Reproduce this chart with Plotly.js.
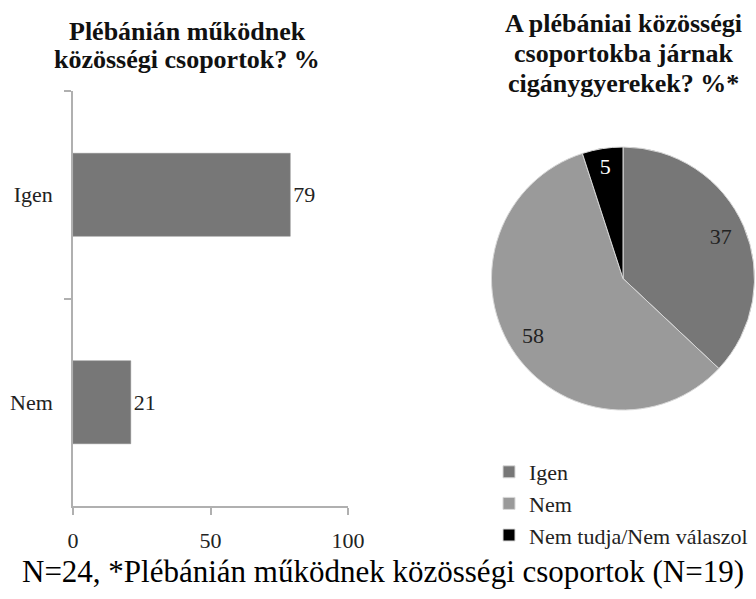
<!DOCTYPE html>
<html>
<head>
<meta charset="utf-8">
<script src="https://cdn.plot.ly/plotly-3.0.1.min.js"></script>
<style>
#chart text, #chart tspan { font-family: "Liberation Serif", "Times New Roman", Tinos, serif !important; }
</style>
</head>
<body style="margin:0">
<div id="chart" style="width:756px;height:599px"></div>
<script>
// Bar chart data
var barCategories = ["Igen", "Nem"];
var barValues = [79, 21];
var barTicks = [0, 50, 100];

// Pie chart data
var pieLabels = ["Igen", "Nem", "Nem tudja/Nem válaszol"];
var pieValues = [37, 58, 5];
var pieColors = ["#777777", "#9a9a9a", "#000000"];
var pieTextColors = ["#222222", "#222222", "#ffffff"];

// Titles
var leftTitleLines = ["Plébánián működnek", "közösségi csoportok? %"];
var rightTitleLines = ["A plébániai közösségi", "csoportokba járnak", "cigánygyerekek? %*"];
var footnote = "N=24, *Plébánián működnek közösségi csoportok (N=19)";

var serifFamily = "Liberation Serif";
var chartW = 756, chartH = 599;
var pieDomain = {x: [491 / chartW, 755 / chartW], y: [1 - 410 / chartH, 1 - 147 / chartH]};

var bar = {
  type: "bar",
  orientation: "h",
  y: barCategories,
  x: barValues,
  text: barValues.map(String),
  textposition: "outside",
  textfont: {family: serifFamily, size: 22, color: "#222"},
  cliponaxis: false,
  marker: {color: "#777777", line: {color: "#888", width: 0.5}},
  width: 0.4,
  showlegend: false
};

var pie = {
  type: "pie",
  labels: pieLabels,
  values: pieValues,
  sort: false,
  direction: "clockwise",
  rotation: 0,
  marker: {colors: pieColors, line: {color: "#d8d8d8", width: 1}},
  textinfo: "none",
  domain: pieDomain,
  showlegend: true
};

var pieText = {
  type: "pie",
  labels: pieLabels,
  values: pieValues,
  sort: false,
  direction: "clockwise",
  rotation: 0,
  hole: 0.62,
  marker: {colors: pieLabels.map(function () { return "rgba(0,0,0,0)"; }), line: {width: 0}},
  textinfo: "value",
  textposition: "inside",
  insidetextorientation: "horizontal",
  textfont: {family: serifFamily, size: 22, color: pieTextColors},
  domain: pieDomain,
  showlegend: false
};

var annotations = [];
leftTitleLines.forEach(function (t, i) {
  annotations.push({
    text: "<b>" + t + "</b>", xref: "paper", yref: "paper",
    x: 187 / chartW, y: 1 - (31 + i * 28) / chartH, xanchor: "center", yanchor: "middle",
    showarrow: false, font: {family: serifFamily, size: 26, color: "#111"}
  });
});
rightTitleLines.forEach(function (t, i) {
  annotations.push({
    text: "<b>" + t + "</b>", xref: "paper", yref: "paper",
    x: 623 / chartW, y: 1 - (24 + i * 29.5) / chartH, xanchor: "center", yanchor: "middle",
    showarrow: false, font: {family: serifFamily, size: 26, color: "#111"}
  });
});
annotations.push({
  text: footnote, xref: "paper", yref: "paper",
  x: 20 / chartW, y: 1 - 571 / chartH, xanchor: "left", yanchor: "middle",
  showarrow: false, font: {family: serifFamily, size: 31, color: "#000"}
});

var layout = {
  width: chartW, height: chartH,
  margin: {l: 0, r: 0, t: 0, b: 0},
  paper_bgcolor: "#fff",
  plot_bgcolor: "#fff",
  xaxis: {
    domain: [73 / chartW, 348 / chartW],
    range: [0, 100],
    tickvals: barTicks,
    ticktext: barTicks.map(String),
    showgrid: false, zeroline: false,
    showline: true, linecolor: "#b0b0b0", linewidth: 1.5,
    ticks: "outside", ticklen: 7, tickcolor: "#b0b0b0", tickwidth: 1.5,
    tickfont: {family: serifFamily, size: 22, color: "#222"},
    ticklabelstandoff: 7,
    fixedrange: true
  },
  yaxis: {
    domain: [1 - 506 / chartH, 1 - 91 / chartH],
    type: "category",
    categoryorder: "array",
    categoryarray: barCategories.slice().reverse(),
    range: [-0.5, 1.5],
    showgrid: false, zeroline: false,
    showline: true, linecolor: "#b0b0b0", linewidth: 1.5,
    ticks: "outside", ticklen: 7, tickcolor: "#b0b0b0", tickwidth: 1.5,
    tickson: "boundaries",
    tickfont: {family: serifFamily, size: 22, color: "#222"},
    ticklabelstandoff: 14,
    fixedrange: true
  },
  legend: {
    x: 489 / chartW, y: 1 - 451 / chartH, xanchor: "left", yanchor: "top",
    font: {family: serifFamily, size: 22, color: "#222"},
    bgcolor: "rgba(0,0,0,0)"
  },
  annotations: annotations,
  showlegend: true
};

Plotly.newPlot("chart", [bar, pie, pieText], layout, {displayModeBar: false});
</script>
</body>
</html>
